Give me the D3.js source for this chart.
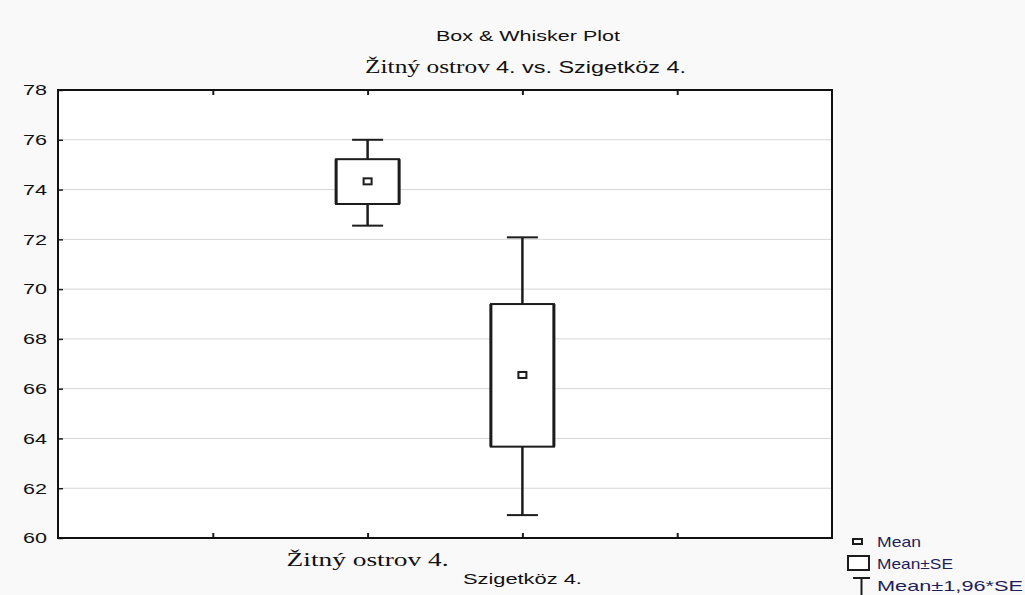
<!DOCTYPE html>
<html><head><meta charset="utf-8">
<script src="https://cdn.jsdelivr.net/npm/d3@7"></script>
<style>
html,body{margin:0;padding:0;background:#f9f9f9;}
svg{display:block;}
</style></head>
<body>
<svg id="chart" width="1025" height="595"></svg>
<script>
const categories = ["Žitný ostrov 4.", "Szigetköz 4."];
const means      = [74.33, 66.55];
const seLow      = [73.42, 63.67];
const seHigh     = [75.22, 69.40];
const ciLow      = [72.55, 60.92];
const ciHigh     = [76.00, 72.08];
const yTicks     = [60, 62, 64, 66, 68, 70, 72, 74, 76, 78];
const xTickPos   = [1, 2, 3, 4];
const catPos     = [2, 3];
const legendLabels = ["Mean", "Mean±SE", "Mean±1,96*SE"];

const svg = d3.select("#chart");
const L = 58, R = 832, T = 90, B = 538;
const x = d3.scaleLinear().domain([0, 5]).range([L, R]);
const y = d3.scaleLinear().domain([60, 78]).range([B, T]);
const ink = "#1c1c1c";

// plot background
svg.append("rect").attr("x", L).attr("y", T).attr("width", R - L).attr("height", B - T).attr("fill", "#ffffff");

// gridlines
svg.append("g").selectAll("line").data(yTicks.slice(1, -1)).join("line")
  .attr("x1", L).attr("x2", R).attr("y1", d => y(d)).attr("y2", d => y(d))
  .attr("stroke", "#d6d6d6").attr("stroke-width", 1);

// axes
const yAxis = d3.axisLeft(y).tickValues(yTicks).tickSize(-5).tickPadding(12).tickFormat(d3.format("d"));
const gy = svg.append("g").attr("transform", `translate(${L},0)`).call(yAxis);
gy.select(".domain").remove();
gy.selectAll(".tick line").attr("stroke", ink).attr("stroke-width", 1.5);
gy.selectAll(".tick text").attr("font-family", "Arial, 'Liberation Sans', sans-serif")
  .attr("font-size", 15).attr("fill", "#111").attr("x", -11)
  .attr("textLength", 24).attr("lengthAdjust", "spacingAndGlyphs");

const xTop = d3.axisTop(x).tickValues(xTickPos).tickSize(-5).tickFormat("");
const gt = svg.append("g").attr("transform", `translate(0,${T})`).call(xTop);
gt.select(".domain").remove();
gt.selectAll(".tick line").attr("stroke", ink).attr("stroke-width", 2);

const xBot = d3.axisBottom(x).tickValues(xTickPos).tickSize(-5).tickFormat("");
const gb = svg.append("g").attr("transform", `translate(0,${B})`).call(xBot);
gb.select(".domain").remove();
gb.selectAll(".tick line").attr("stroke", ink).attr("stroke-width", 2);

// frame
svg.append("rect").attr("x", L).attr("y", T).attr("width", R - L).attr("height", B - T)
  .attr("fill", "none").attr("stroke", "#111").attr("stroke-width", 2);

// boxes & whiskers
const boxW = 63, capW = 31;
const g = svg.append("g");
categories.forEach((c, i) => {
  const cx = x(catPos[i]);
  g.append("line").attr("x1", cx).attr("x2", cx).attr("y1", y(ciHigh[i])).attr("y2", y(seHigh[i]))
    .attr("stroke", ink).attr("stroke-width", 2.5);
  g.append("line").attr("x1", cx).attr("x2", cx).attr("y1", y(seLow[i])).attr("y2", y(ciLow[i]))
    .attr("stroke", ink).attr("stroke-width", 2.5);
  g.append("line").attr("x1", cx - capW / 2).attr("x2", cx + capW / 2).attr("y1", y(ciHigh[i])).attr("y2", y(ciHigh[i]))
    .attr("stroke", ink).attr("stroke-width", 2);
  g.append("line").attr("x1", cx - capW / 2).attr("x2", cx + capW / 2).attr("y1", y(ciLow[i])).attr("y2", y(ciLow[i]))
    .attr("stroke", ink).attr("stroke-width", 2);
  const bx0 = cx - boxW / 2, bx1 = cx + boxW / 2, by0 = y(seHigh[i]), by1 = y(seLow[i]);
  g.append("rect").attr("x", bx0).attr("y", by0).attr("width", boxW)
    .attr("height", by1 - by0).attr("fill", "#fff").attr("stroke", ink).attr("stroke-width", 2);
  // heavier vertical edges as in the reference rendering
  g.append("line").attr("x1", bx0).attr("x2", bx0).attr("y1", by0).attr("y2", by1).attr("stroke", ink).attr("stroke-width", 3);
  g.append("line").attr("x1", bx1).attr("x2", bx1).attr("y1", by0).attr("y2", by1).attr("stroke", ink).attr("stroke-width", 3);
  g.append("rect").attr("x", cx - 4).attr("y", y(means[i]) - 3).attr("width", 8).attr("height", 6)
    .attr("fill", "#fff").attr("stroke", ink).attr("stroke-width", 2);
});

// titles
svg.append("text").attr("x", 528).attr("y", 41).attr("text-anchor", "middle")
  .attr("font-family", "Arial, 'Liberation Sans', sans-serif").attr("font-size", 14).attr("fill", "#111")
  .attr("textLength", 184).attr("lengthAdjust", "spacingAndGlyphs")
  .text("Box & Whisker Plot");
const t2 = svg.append("text").attr("y", 73).attr("fill", "#111");
t2.append("tspan").attr("x", 365).attr("font-family", "'Liberation Serif', 'Times New Roman', serif").attr("font-size", 18)
  .attr("textLength", 125).attr("lengthAdjust", "spacingAndGlyphs").text("Žitný ostrov");
t2.append("tspan").attr("x", 496).attr("font-family", "Arial, 'Liberation Sans', sans-serif").attr("font-size", 16)
  .attr("textLength", 190).attr("lengthAdjust", "spacingAndGlyphs").text("4. vs. Szigetköz 4.");

// category labels (staggered)
svg.append("text").attr("x", x(catPos[0])).attr("y", 566).attr("text-anchor", "middle")
  .attr("font-family", "'Liberation Serif', 'Times New Roman', serif").attr("font-size", 18).attr("fill", "#111")
  .attr("textLength", 162).attr("lengthAdjust", "spacingAndGlyphs").text(categories[0]);
svg.append("text").attr("x", x(catPos[1])).attr("y", 584).attr("text-anchor", "middle")
  .attr("font-family", "Arial, 'Liberation Sans', sans-serif").attr("font-size", 15).attr("fill", "#111")
  .attr("textLength", 119).attr("lengthAdjust", "spacingAndGlyphs").text(categories[1]);

// legend
const lg = svg.append("g");
const legY = [547, 569, 591];
const legLen = [44, 76, 146];
lg.append("rect").attr("x", 853).attr("y", 539).attr("width", 9).attr("height", 5)
  .attr("fill", "#fff").attr("stroke", ink).attr("stroke-width", 2);
lg.append("rect").attr("x", 848).attr("y", 556).attr("width", 21).attr("height", 14)
  .attr("fill", "#fff").attr("stroke", ink).attr("stroke-width", 2);
lg.append("line").attr("x1", 853).attr("x2", 870).attr("y1", 578).attr("y2", 578).attr("stroke", ink).attr("stroke-width", 2);
lg.append("line").attr("x1", 861.5).attr("x2", 861.5).attr("y1", 578).attr("y2", 595).attr("stroke", ink).attr("stroke-width", 2);
lg.selectAll("text").data(legendLabels).join("text")
  .attr("x", 877).attr("y", (d, i) => legY[i])
  .attr("font-family", "Arial, 'Liberation Sans', sans-serif").attr("font-size", 15).attr("fill", "#1e1e5a")
  .attr("textLength", (d, i) => legLen[i]).attr("lengthAdjust", "spacingAndGlyphs")
  .text(d => d);
</script>
</body></html>
